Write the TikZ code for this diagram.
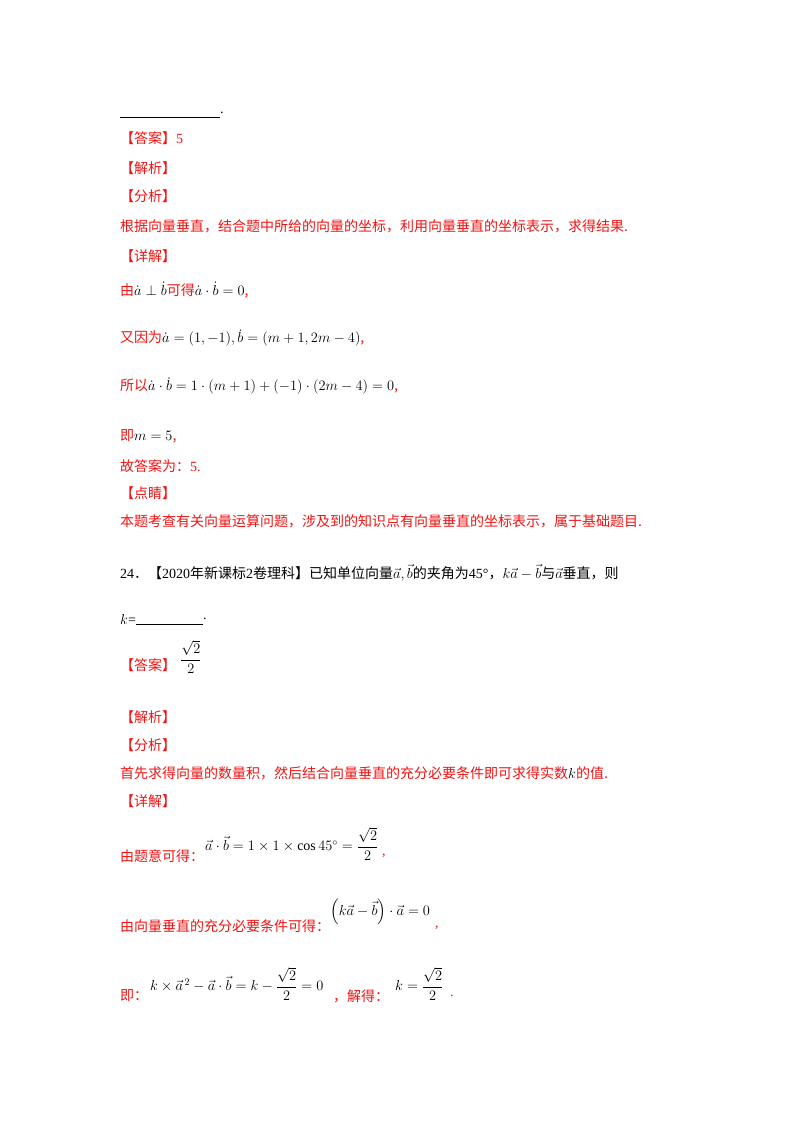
\documentclass[tikz,border=0pt]{standalone}
\usepackage{amsmath}
\usepackage{fontspec}
\setmainfont{Liberation Serif}
\newfontfamily\cjk{Noto Sans CJK SC}
\definecolor{ansred}{RGB}{240,20,20}
\begin{document}
\begin{tikzpicture}[x=1pt,y=-1pt,
  txt/.style={anchor=west,inner sep=0pt,font=\fontsize{14}{16}\selectfont},
  red/.style={txt,text=ansred}]
\useasboundingbox (0,0) rectangle (800,1132);
\fill[white] (0,0) rectangle (800,1132);
\draw[line width=0.6pt] (120,117) -- (220,117);
\node[txt] (dot0) at (220,113) {.};
\node[red] (l1) at (120,138) {\cjk 【答案】\rmfamily 5};
\node[red] (l2) at (120,168) {\cjk 【解析】};
\node[red] (l3) at (120,196) {\cjk 【分析】};
\node[red] (l4) at (120,226) {\cjk 根据向量垂直，结合题中所给的向量的坐标，利用向量垂直的坐标表示，求得结果.};
\node[red] (l5) at (120,256) {\cjk 【详解】};
\node[red] (l6) at (120,290) {\cjk 由\rmfamily\color{black}$\dot a\perp\dot b$\color{ansred}\cjk 可得\color{black}$\dot a\cdot\dot b=0$\color{ansred},};
\node[red] (l7) at (120,338) {\cjk 又因为\color{black}$\dot a=(1,-1),\dot b=(m+1,2m-4)$\color{ansred},};
\node[red] (l8) at (120,386) {\cjk 所以\color{black}$\dot a\cdot\dot b=1\cdot(m+1)+(-1)\cdot(2m-4)=0$\color{ansred},};
\node[red] (l9) at (120,436) {\cjk 即\color{black}$m=5$\color{ansred},};
\node[red] (l10) at (120,466) {\cjk 故答案为：\rmfamily 5.};
\node[red] (l11) at (120,493) {\cjk 【点睛】};
\node[red] (l12) at (120,521) {\cjk 本题考查有关向量运算问题，涉及到的知识点有向量垂直的坐标表示，属于基础题目.};
\node[txt] (q24) at (120,573) {24\cjk ．【\rmfamily 2020\cjk 年新课标\rmfamily 2\cjk 卷理科】已知单位向量\rmfamily$\vec a,\vec b$\cjk 的夹角为\rmfamily 45°\cjk ，\rmfamily$k\vec a-\vec b$\cjk 与\rmfamily$\vec a$\cjk 垂直，则};
\node[txt] (k) at (120,619) {$k$=};
\draw[line width=0.6pt] (136,624) -- (203,624);
\node[txt] (dot1) at (203,619) {.};
\node[red] (a2) at (120,665) {\cjk 【答案】};
\node[txt] (a2v) at (180,657) {$\dfrac{\sqrt2}{2}$};
\node[red] (m1) at (120,717) {\cjk 【解析】};
\node[red] (m2) at (120,745) {\cjk 【分析】};
\node[red] (m3) at (120,773) {\cjk 首先求得向量的数量积，然后结合向量垂直的充分必要条件即可求得实数\rmfamily\color{black}$k$\color{ansred}\cjk 的值.};
\node[red] (m4) at (120,801) {\cjk 【详解】};
\node[red] (e1) at (120,856) {\cjk 由题意可得：};
\node[txt] (e1m) at (205,844) {$\vec a\cdot\vec b=1\times1\times\cos45^\circ=\dfrac{\sqrt2}{2}$};
\node[red] (e1c) at (382,856) {,};
\node[red] (e2) at (120,926) {\cjk 由向量垂直的充分必要条件可得：};
\node[txt] (e2m) at (330,912) {$\left(k\vec a-\vec b\right)\cdot\vec a=0$};
\node[red] (e2c) at (435,928) {,};
\node[red] (e3) at (120,996) {\cjk 即：};
\node[txt] (e3m) at (150,984) {$k\times\vec a^{\,2}-\vec a\cdot\vec b=k-\dfrac{\sqrt2}{2}=0$};
\node[red] (e3b) at (333,996) {\cjk ，解得：};
\node[txt] (e3n) at (395,984) {$k=\dfrac{\sqrt2}{2}$};
\node[red] (e3d) at (450,996) {.};
\end{tikzpicture}
\end{document}
